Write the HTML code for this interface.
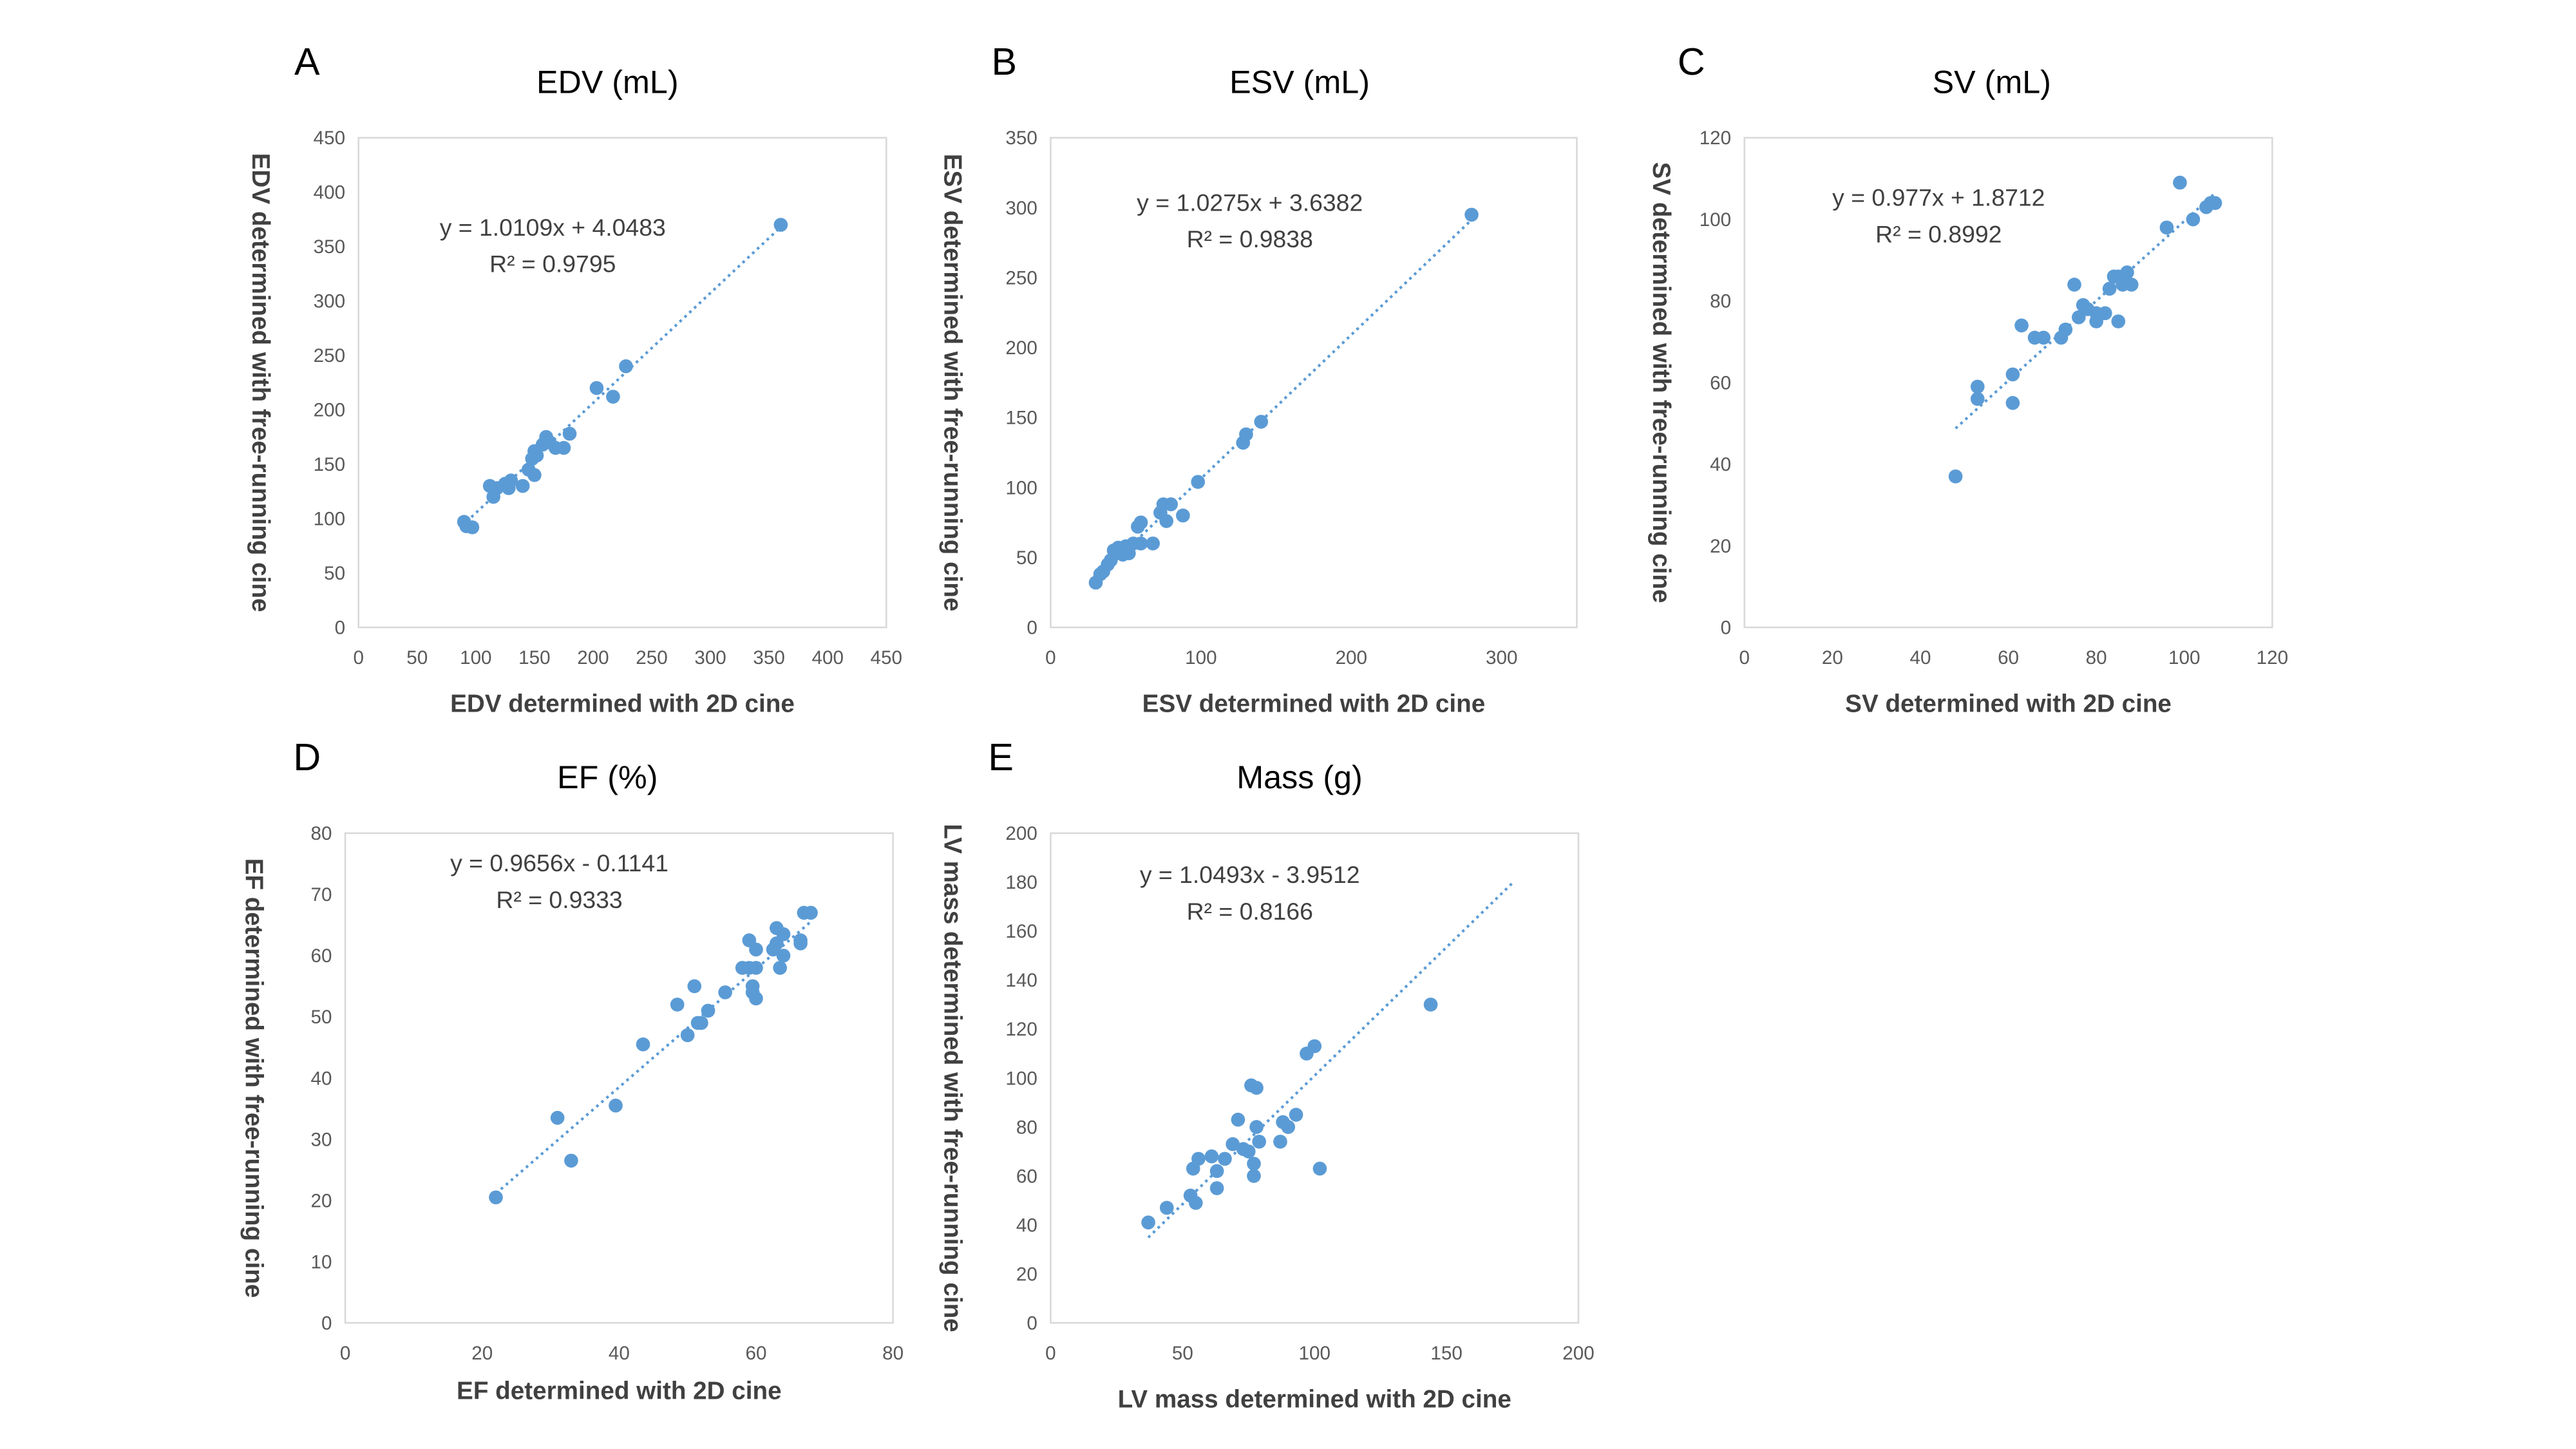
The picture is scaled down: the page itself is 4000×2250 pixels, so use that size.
<!DOCTYPE html>
<html><head><meta charset="utf-8">
<style>
html,body{margin:0;padding:0;background:#fff;}
svg{display:block;font-family:"Liberation Sans",Arial,sans-serif;}
</style></head>
<body>
<svg id="fig" width="4000" height="2250" viewBox="0 0 1552 873" xmlns="http://www.w3.org/2000/svg"></svg>
<script>
// Panel A data
const edvX = [360,228,203,217,180,160,163,157,168,175,150,152,148,145,150,140,130,125,118,112,115,128,90,92,97];
const edvY = [370,240,220,212,178,175,170,168,165,165,162,158,155,145,140,130,135,132,128,130,120,128,97,93,92];
const edvTicks = [0,50,100,150,200,250,300,350,400,450];
const edvFit = [1.0109,4.0483];
// Panel B data
const esvX = [280,140,130,128,98,80,75,73,77,88,60,58,68,60,55,50,45,42,48,40,38,35,33,30,47,52];
const esvY = [295,147,138,132,104,88,88,82,76,80,75,72,60,60,60,58,57,55,52,48,45,40,38,32,55,53];
const esvXTicks = [0,100,200,300];
const esvYTicks = [0,50,100,150,200,250,300,350];
const esvFit = [1.0275,3.6382];
// Panel C data
const svX = [99,107,106,105,102,96,87,85,84,86,88,83,75,77,78,80,82,80,85,76,73,72,68,66,63,61,61,53,53,48];
const svY = [109,104,104,103,100,98,87,86,86,84,84,83,84,79,78,77,77,75,75,76,73,71,71,71,74,62,55,59,56,37];
const svTicks = [0,20,40,60,80,100,120];
const svFit = [0.977,1.8712];
// Panel D data
const efX = [68,67,66.5,66.5,63,64,63,64,62.5,63.5,59,60,60,59,58,55.5,59.5,59.5,60,53,51,48.5,51.5,52,50,43.5,39.5,31,33,22];
const efY = [67,67,62.5,62,64.5,63.5,62,60,61,58,62.5,61,58,58,58,54,55,54,53,51,55,52,49,49,47,45.5,35.5,33.5,26.5,20.5];
const efXTicks = [0,20,40,60,80];
const efYTicks = [0,10,20,30,40,50,60,70,80];
const efFit = [0.9656,-0.1141];
// Panel E data
const massX = [144,100,97,93,88,90,87,78,76,78,79,77,77,102,71,73,69,75,66,61,56,63,63,54,53,55,44,37];
const massY = [130,113,110,85,82,80,74,96,97,80,74,65,60,63,83,71,73,70,67,68,67,62,55,63,52,49,47,41];
const massXTicks = [0,50,100,150,200];
const massYTicks = [0,20,40,60,80,100,120,140,160,180,200];
const massFit = [1.0493,-3.9512];

const NS="http://www.w3.org/2000/svg";
const svg=document.getElementById('fig');
function mk(tag,attrs,parent){const e=document.createElementNS(NS,tag);for(const k in attrs)e.setAttribute(k,attrs[k]);(parent||svg).appendChild(e);return e;}
function txt(s,attrs,parent){const e=mk('text',attrs,parent);e.textContent=s;return e;}

function panel(o){
  const g=mk('g',{});
  
  
  const xs=v=>o.L+(v-o.xMin)/(o.xMax-o.xMin)*(o.R-o.L);
  const ys=v=>o.B-(v-o.yMin)/(o.yMax-o.yMin)*(o.B-o.T);
  const box=mk('rect',{x:o.L,y:o.T,width:o.R-o.L,height:o.B-o.T,fill:'none',stroke:'#d9d9d9','stroke-width':1},g);
  
  
  o.xTicks.forEach(t=>{const e=txt(String(t),{x:xs(t),y:o.B+22,'font-size':11.5,fill:'#595959','text-anchor':'middle'},g);
    
    });
  o.yTicks.forEach(t=>{const e=txt(String(t),{x:o.L-8,y:ys(t)+4,'font-size':11.5,fill:'#595959','text-anchor':'end'},g);
    
    });
  const [m,b]=o.fit;
  const tl=mk('line',{x1:xs(o.fx0),y1:ys(m*o.fx0+b),x2:xs(o.fx1),y2:ys(m*o.fx1+b),stroke:'#5b9bd5','stroke-width':1.6,'stroke-dasharray':'1.6 2.4'},g);
  
  
  o.X.forEach((x,i)=>{const c=mk('circle',{cx:xs(x),cy:ys(o.Y[i]),r:4.2,fill:'#5b9bd5'},g);
    
    });
  const eq=txt(o.eq,{x:o.eqx,y:o.eqy,'font-size':14.5,fill:'#404040','text-anchor':'middle'},g);
  
  
  const r2=txt(o.r2,{x:o.eqx,y:o.eqy+22,'font-size':14.5,fill:'#404040','text-anchor':'middle'},g);
  
  
  const ti=txt(o.title,{x:o.tx,y:o.ty,'font-size':19.5,fill:'#000','text-anchor':'middle'},g);
  
  
  const le=txt(o.letter,{x:o.lx,y:o.ly,'font-size':23,fill:'#000','text-anchor':'middle'},g);
  
  
  const xt=txt(o.xlab,{x:(o.L+o.R)/2,y:o.xly,'font-size':15,'font-weight':'bold',fill:'#404040','text-anchor':'middle'},g);
  
  
  const cy=(o.T+o.B)/2;
  const yt=txt(o.ylab,{x:o.ylx,y:cy,'font-size':15,'font-weight':'bold',fill:'#404040','text-anchor':'middle',transform:`rotate(90 ${o.ylx} ${cy})`},g);
  
  
}

panel({name:'edv',L:216,R:534,T:83,B:378,xMin:0,xMax:450,yMin:0,yMax:450,xTicks:edvTicks,yTicks:edvTicks,X:edvX,Y:edvY,fit:edvFit,fx0:88,fx1:360,
  eq:'y = 1.0109x + 4.0483',r2:'R² = 0.9795',eqx:333,eqy:142,title:'EDV (mL)',tx:366,ty:56,letter:'A',lx:185,ly:45,
  xlab:'EDV determined with 2D cine',xly:429,ylab:'EDV determined with free-running cine',ylx:152});
panel({name:'esv',L:633,R:950,T:83,B:378,xMin:0,xMax:350,yMin:0,yMax:350,xTicks:esvXTicks,yTicks:esvYTicks,X:esvX,Y:esvY,fit:esvFit,fx0:28,fx1:280,
  eq:'y = 1.0275x + 3.6382',r2:'R² = 0.9838',eqx:753,eqy:127,title:'ESV (mL)',tx:783,ty:56,letter:'B',lx:605,ly:45,
  xlab:'ESV determined with 2D cine',xly:429,ylab:'ESV determined with free-running cine',ylx:569});
panel({name:'sv',L:1051,R:1369,T:83,B:378,xMin:0,xMax:120,yMin:0,yMax:120,xTicks:svTicks,yTicks:svTicks,X:svX,Y:svY,fit:svFit,fx0:48,fx1:107,
  eq:'y = 0.977x + 1.8712',r2:'R² = 0.8992',eqx:1168,eqy:124,title:'SV (mL)',tx:1200,ty:56,letter:'C',lx:1019,ly:45,
  xlab:'SV determined with 2D cine',xly:429,ylab:'SV determined with free-running cine',ylx:996});
panel({name:'ef',L:208,R:538,T:502,B:797,xMin:0,xMax:80,yMin:0,yMax:80,xTicks:efXTicks,yTicks:efYTicks,X:efX,Y:efY,fit:efFit,fx0:22,fx1:68,
  eq:'y = 0.9656x - 0.1141',r2:'R² = 0.9333',eqx:337,eqy:525,title:'EF (%)',tx:366,ty:475,letter:'D',lx:185,ly:464,
  xlab:'EF determined with 2D cine',xly:843,ylab:'EF determined with free-running cine',ylx:148});
panel({name:'mass',L:633,R:951,T:502,B:797,xMin:0,xMax:200,yMin:0,yMax:200,xTicks:massXTicks,yTicks:massYTicks,X:massX,Y:massY,fit:massFit,fx0:37,fx1:175,
  eq:'y = 1.0493x - 3.9512',r2:'R² = 0.8166',eqx:753,eqy:532,title:'Mass (g)',tx:783,ty:475,letter:'E',lx:603,ly:464,
  xlab:'LV mass determined with 2D cine',xly:848,ylab:'LV mass determined with free-running cine',ylx:569});
</script>
</body></html>
